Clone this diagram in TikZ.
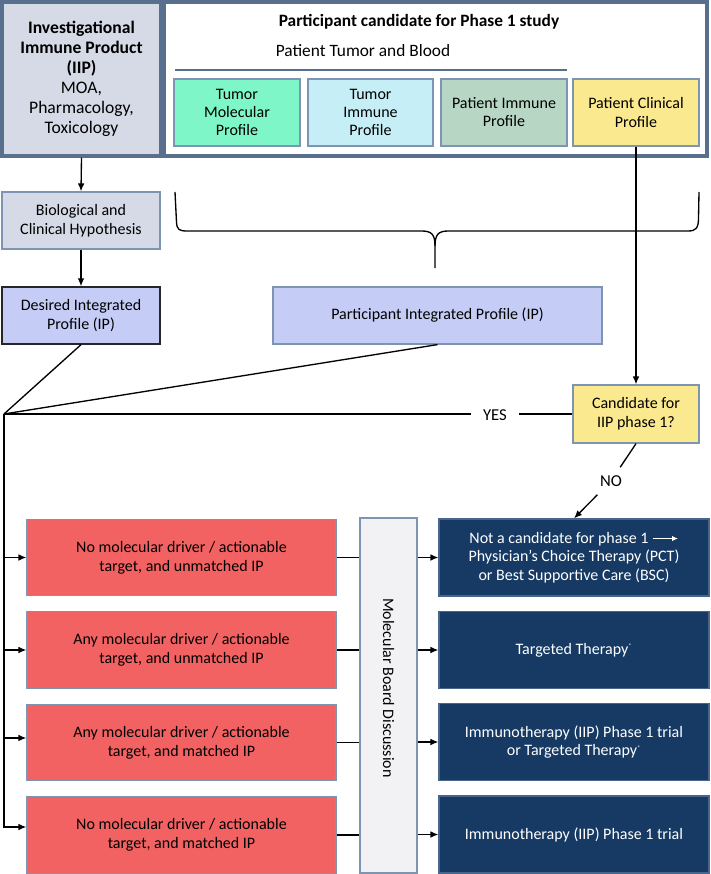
\documentclass[tikz,border=0pt]{standalone}
\usepackage{fontspec}
\setmainfont{Carlito}
\usetikzlibrary{arrows.meta,calc}
\definecolor{thickb}{RGB}{88,112,142}
\definecolor{thinb}{RGB}{125,148,178}
\definecolor{iipfill}{RGB}{214,218,230}
\definecolor{mint}{RGB}{126,246,200}
\definecolor{lcyan}{RGB}{198,238,247}
\definecolor{ggreen}{RGB}{183,215,196}
\definecolor{yell}{RGB}{251,233,143}
\definecolor{lav}{RGB}{197,205,246}
\definecolor{redb}{RGB}{243,98,98}
\definecolor{navy}{RGB}{22,58,99}
\definecolor{navyb}{RGB}{72,102,140}
\definecolor{mbdfill}{RGB}{242,242,244}
\begin{document}
\begin{tikzpicture}[x=0.75pt,y=-0.75pt,
  every node/.style={font=\fontsize{12}{14}\selectfont},
  boxb/.style={draw=thinb, line width=0.9pt, inner sep=0pt, align=center},
  thickbox/.style={draw=thickb, line width=2.6pt, inner sep=0pt, align=center},
  redbox/.style={boxb, fill=redb, minimum width=231.75pt, minimum height=57.5pt},
  darkbox/.style={draw=navyb, line width=0.9pt, fill=navy, text=white, inner sep=0pt, align=center, minimum width=202.5pt, minimum height=57.75pt},
  conn/.style={line width=1pt, draw=black},
  arr/.style={conn, -{Latex[length=6pt,width=5pt]}}]
\useasboundingbox (0,0) rectangle (710,874);

% top-left IIP box
\node[thickbox, fill=iipfill, minimum width=119.25pt, minimum height=115.5pt,
      font=\fontsize{13.2}{15}\selectfont] (iip) at (81.5,79)
  {\textbf{Investigational}\\\textbf{Immune Product}\\\textbf{(IIP)}\\MOA,\\Pharmacology,\\Toxicology};

% participant box
\node[thickbox, fill=white, minimum width=407.25pt, minimum height=115.5pt] (part) at (435.5,79) {};
\node[font=\fontsize{13}{15}\selectfont\bfseries] (title) at (419,22) {Participant candidate for Phase 1 study};
\node[font=\fontsize{13}{15}\selectfont] (ptb) at (363,51) {Patient Tumor and Blood};
\draw[thickb, line width=1pt] (175,70) -- (567,70);

\node[boxb, fill=mint, minimum width=94.5pt, minimum height=50.25pt, font=\fontsize{12}{13.5}\selectfont] (tmp) at (237,112.5) {Tumor\\Molecular\\Profile};
\node[boxb, fill=lcyan, minimum width=93.75pt, minimum height=50.25pt, font=\fontsize{12}{13.5}\selectfont] (tip) at (370.5,112.5) {Tumor\\Immune\\Profile};
\node[boxb, fill=ggreen, minimum width=94.5pt, minimum height=50.25pt, font=\fontsize{12}{13.5}\selectfont] (pimp) at (504,112.5) {Patient Immune\\Profile};
\node[boxb, fill=yell, minimum width=94.5pt, minimum height=50.25pt, font=\fontsize{12}{13.5}\selectfont] (pcp) at (636,112.5) {Patient Clinical\\Profile};

% brace
\draw[line width=1pt] (175,192) -- (176.5,222) .. controls (177,230) and (179,231) .. (188,231)
  -- (422,231) .. controls (432,231) and (435,235) .. (435,246) -- (435,268);
\draw[line width=1pt] (435,246) .. controls (435,235) and (438,231) .. (448,231)
  -- (688,231) .. controls (696,231) and (698.5,228) .. (698.5,218) -- (699,192);

% left column
\node[boxb, fill=iipfill, minimum width=118.5pt, minimum height=42.75pt] (bio) at (81,220.5) {Biological and\\Clinical Hypothesis};
\node[draw=black!85, line width=1pt, inner sep=0pt, align=center, fill=lav, minimum width=118.5pt, minimum height=42.75pt] (des) at (81,315.5) {Desired Integrated\\Profile (IP)};
\node[boxb, fill=lav, minimum width=246.75pt, minimum height=42.75pt] (pip) at (437.5,315.5) {Participant Integrated Profile (IP)};

\draw[arr] (iip.south) -- (bio.north);
\draw[arr] (bio.south) -- (des.north);

% candidate
\node[boxb, fill=yell, minimum width=94.5pt, minimum height=43.5pt] (cand) at (636,414) {Candidate for\\IIP phase 1?};
\draw[arr] (pcp.south) -- (cand.north);

\coordinate (J) at (4,414);
\draw[conn] (des.south) -- (J);
\draw[conn] (pip.south) -- (J);
\node[inner xsep=9pt, inner ysep=3pt, font=\fontsize{12.5}{14}\selectfont] (yes) at (495,415) {YES};
\draw[conn] (J) -- (J -| yes.west);
\draw[conn] (J -| yes.east) -- (cand.west);

% red boxes
\node[redbox] (r1) at (181.5,557.5) {No molecular driver / actionable\\target, and unmatched IP};
\node[redbox] (r2) at (181.5,650) {Any molecular driver / actionable\\target, and unmatched IP};
\node[redbox] (r3) at (181.5,742.5) {Any molecular driver / actionable\\target, and matched IP};
\node[redbox] (r4) at (181.5,835) {No molecular driver / actionable\\target, and matched IP};

% molecular board
\node[boxb, fill=mbdfill, minimum width=42.75pt, minimum height=266.25pt] (mbd) at (388.5,695.5) {};
\node[rotate=-90, font=\fontsize{12}{14}\selectfont] (mbdt) at (388.5,688) {Molecular Board Discussion};

% dark boxes
\node[darkbox] (d1) at (574,557.5) {Not a candidate for phase 1 \tikz[baseline=-0.6ex]\draw[white, line width=0.8pt, -{Latex[length=4.5pt,width=4pt]}] (0pt,0pt) -- (19pt,0pt);\\Physician’s Choice Therapy (PCT)\\or Best Supportive Care (BSC)};
\node[darkbox] (d2) at (574,650) {Targeted Therapy\textsuperscript{\tiny *}};
\node[darkbox] (d3) at (574,742) {Immunotherapy (IIP) Phase 1 trial\\or Targeted Therapy\textsuperscript{\tiny *}};
\node[darkbox] (d4) at (574,834.5) {Immunotherapy (IIP) Phase 1 trial};

% NO branch
\node[inner sep=6pt, font=\fontsize{12.5}{14}\selectfont] (no) at (611,481) {NO};
\draw[conn] (cand.south) -- (no);
\draw[arr] (no) -- (d1.north);

% left trunk and arrows
\draw[arr] (J) |- ([yshift=6pt]r4.west);
\draw[arr] (J |- r1.west) -- (r1.west);
\draw[arr] (J |- r2.west) -- (r2.west);
\draw[arr] ([yshift=3.4pt]r3.west -| J) -- ([yshift=3.4pt]r3.west);

% red -> board, board -> dark
\draw[conn] (r1.east) -- (r1.east -| mbd.west);
\draw[conn] (r2.east) -- (r2.east -| mbd.west);
\draw[conn] (r3.east) -- (r3.east -| mbd.west);
\draw[conn] (r4.east) -- (r4.east -| mbd.west);
\draw[arr] (mbd.east |- d1.west) -- (d1.west);
\draw[arr] (mbd.east |- d2.west) -- (d2.west);
\draw[arr] (mbd.east |- d3.west) -- (d3.west);
\draw[arr] (mbd.east |- d4.west) -- (d4.west);
\end{tikzpicture}
\end{document}
